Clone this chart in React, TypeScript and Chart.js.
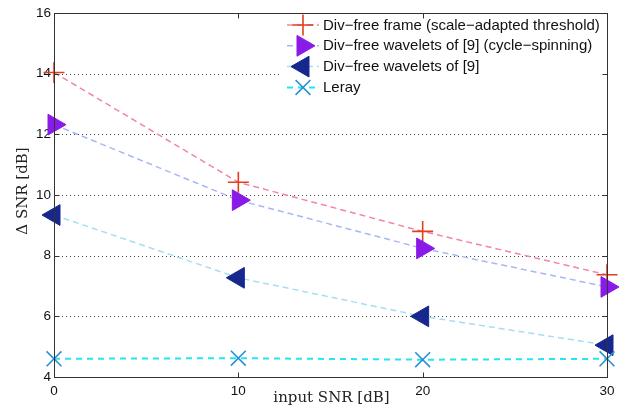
import React, { useEffect, useRef } from "react";
import { Chart, registerables } from "chart.js";
import { drawPoint } from "chart.js/helpers";

Chart.register(...registerables);

// ---- data ----
const inputSNR = [0, 10, 20, 30];
const divFreeFrame = [14.04, 10.42, 8.8, 7.37];
const divFreeCycleSpinning = [12.32, 9.83, 8.24, 6.97];
const divFreeWavelets = [9.34, 7.27, 6.0, 5.05];
const leray = [4.6, 4.62, 4.57, 4.6];
const seriesLabels = [
  "Div\u2212free frame (scale\u2212adapted threshold)",
  "Div\u2212free wavelets of [9] (cycle\u2212spinning)",
  "Div\u2212free wavelets of [9]",
  "Leray",
];
const xTicks = [0, 10, 20, 30];
const yTicks = [4, 6, 8, 10, 12, 14, 16];
const xTitle = "input SNR [dB]";
const yTitle = "\u0394 SNR [dB]";

const W = 636;
const H = 419;
const legendFont = "15px 'Liberation Sans', Arial, sans-serif";
const titleFont = "15px 'DejaVu Serif', 'Liberation Serif', serif";

type Sty = {
  line: string;
  dash: number[];
  lw: number;
  pointStyle: any;
  rot: number;
  radius: number;
  pColor: string;
  pFill: string;
  pWidth: number;
};

const styles: Sty[] = [
  { line: "#f3869f", dash: [6, 4], lw: 1.5, pointStyle: "cross", rot: 0, radius: 10.5, pColor: "#e0401e", pFill: "#e0401e", pWidth: 1.6 },
  { line: "#a9b6f6", dash: [6, 4], lw: 1.5, pointStyle: "triangle", rot: 90, radius: 12, pColor: "#8a1ae8", pFill: "#8a1ae8", pWidth: 1 },
  { line: "#a6ddf6", dash: [6, 4], lw: 1.5, pointStyle: "triangle", rot: -90, radius: 12, pColor: "#16288e", pFill: "#16288e", pWidth: 1 },
  { line: "#22e6f0", dash: [6, 5], lw: 2, pointStyle: "crossRot", rot: 0, radius: 10.5, pColor: "#2a8fd4", pFill: "#2a8fd4", pWidth: 1.6 },
];

const seriesValues = [divFreeFrame, divFreeCycleSpinning, divFreeWavelets, leray];

const framePlugin = {
  id: "matlabFrame",
  beforeDatasetsDraw(chart: any) {
    const { ctx, chartArea: a, scales } = chart;
    const ys = scales.y;
    ctx.save();
    ctx.strokeStyle = "#444";
    ctx.lineWidth = 1;
    ctx.setLineDash([1, 3]);
    yTicks.forEach((v) => {
      if (v === yTicks[0] || v === yTicks[yTicks.length - 1]) return;
      const y = Math.round(ys.getPixelForValue(v)) + 0.5;
      ctx.beginPath();
      ctx.moveTo(a.left, y);
      ctx.lineTo(a.right, y);
      ctx.stroke();
    });
    ctx.restore();
  },
  afterDraw(chart: any) {
    const { ctx, chartArea: a, scales } = chart;
    const xs = scales.x;
    const ys = scales.y;

    // legend
    ctx.save();
    ctx.fillStyle = "#ffffff";
    ctx.fillRect(282, a.top + 1, a.right - 282 - 1, 87);
    const rowY0 = 25;
    const rowH = 20.8;
    styles.forEach((s, i) => {
      const y = rowY0 + i * rowH;
      ctx.save();
      ctx.strokeStyle = s.line;
      ctx.lineWidth = s.lw;
      ctx.setLineDash(s.dash);
      ctx.beginPath();
      ctx.moveTo(287, y);
      ctx.lineTo(319, y);
      ctx.stroke();
      ctx.restore();
      ctx.save();
      ctx.strokeStyle = s.pColor;
      ctx.fillStyle = s.pFill;
      ctx.lineWidth = s.pWidth;
      drawPoint(ctx, { pointStyle: s.pointStyle, rotation: s.rot, radius: s.radius, borderWidth: s.pWidth } as any, 303, y);
      ctx.restore();
      ctx.fillStyle = "#111";
      ctx.font = legendFont;
      ctx.textAlign = "left";
      ctx.textBaseline = "middle";
      ctx.fillText(seriesLabels[i], 323, y + 0.5);
    });
    ctx.restore();

    // box + inward ticks
    ctx.save();
    ctx.strokeStyle = "#333";
    ctx.lineWidth = 1;
    ctx.setLineDash([]);
    const L = Math.round(a.left) + 0.5;
    const R = Math.round(a.right) + 0.5;
    const T = Math.round(a.top) + 0.5;
    const B = Math.round(a.bottom) + 0.5;
    ctx.strokeRect(L, T, R - L, B - T);
    const tl = 5;
    ctx.beginPath();
    xTicks.forEach((v) => {
      const x = Math.round(xs.getPixelForValue(v)) + 0.5;
      ctx.moveTo(x, B);
      ctx.lineTo(x, B - tl);
      ctx.moveTo(x, T);
      ctx.lineTo(x, T + tl);
    });
    yTicks.forEach((v) => {
      const y = Math.round(ys.getPixelForValue(v)) + 0.5;
      ctx.moveTo(L, y);
      ctx.lineTo(L + tl, y);
      ctx.moveTo(R, y);
      ctx.lineTo(R - tl, y);
    });
    ctx.stroke();

    // axis titles
    ctx.fillStyle = "#222";
    ctx.font = titleFont;
    ctx.textAlign = "center";
    ctx.textBaseline = "middle";
    ctx.fillText(xTitle, (a.left + a.right) / 2 + 1, 398);
    ctx.translate(23, (a.top + a.bottom) / 2 - 4);
    ctx.rotate(-Math.PI / 2);
    ctx.fillText(yTitle, 0, 0);
    ctx.restore();
  },
};

export default function App() {
  const ref = useRef<HTMLCanvasElement | null>(null);

  useEffect(() => {
    document.body.style.margin = "0";
    const canvas = ref.current;
    if (!canvas) return;
    const datasets = seriesValues.map((vals, i) => {
      const s = styles[i];
      return {
        label: seriesLabels[i],
        data: inputSNR.map((x, j) => ({ x, y: vals[j] })),
        borderColor: s.line,
        borderWidth: s.lw,
        borderDash: s.dash,
        pointStyle: s.pointStyle,
        pointRotation: s.rot,
        pointRadius: s.radius,
        pointHoverRadius: s.radius,
        pointBorderColor: s.pColor,
        pointBackgroundColor: s.pFill,
        pointBorderWidth: s.pWidth,
        fill: false,
        tension: 0,
        clip: false as any,
        order: 3 - i,
      };
    });
    const chart = new Chart(canvas, {
      type: "line",
      data: { datasets },
      plugins: [framePlugin],
      options: {
        animation: false,
        responsive: false,
        devicePixelRatio: 1,
        layout: { padding: { top: 10, right: 29, left: 0, bottom: 0 } },
        plugins: { legend: { display: false }, tooltip: { enabled: false } },
        scales: {
          x: {
            type: "linear",
            min: 0,
            max: 30,
            afterFit: (s: any) => {
              s.height = 42;
            },
            afterBuildTicks: (s: any) => {
              s.ticks = xTicks.map((v) => ({ value: v }));
            },
            grid: { display: false, drawTicks: false },
            border: { display: false },
            ticks: { padding: 6, color: "#111", font: { family: "'Liberation Sans', Arial, sans-serif", size: 13.5 }, maxRotation: 0 },
          },
          y: {
            type: "linear",
            min: 4,
            max: 16,
            afterFit: (s: any) => {
              s.width = 54;
            },
            afterBuildTicks: (s: any) => {
              s.ticks = yTicks.map((v) => ({ value: v }));
            },
            grid: { display: false, drawTicks: false },
            border: { display: false },
            ticks: { padding: 3, color: "#111", font: { family: "'Liberation Sans', Arial, sans-serif", size: 13.5 } },
          },
        },
      },
    });
    return () => chart.destroy();
  }, []);

  return (
    <div style={{ position: "fixed", left: 0, top: 0, width: W, height: H, background: "#fff" }}>
      <canvas ref={ref} width={W} height={H} style={{ width: W, height: H, display: "block" }} />
    </div>
  );
}
